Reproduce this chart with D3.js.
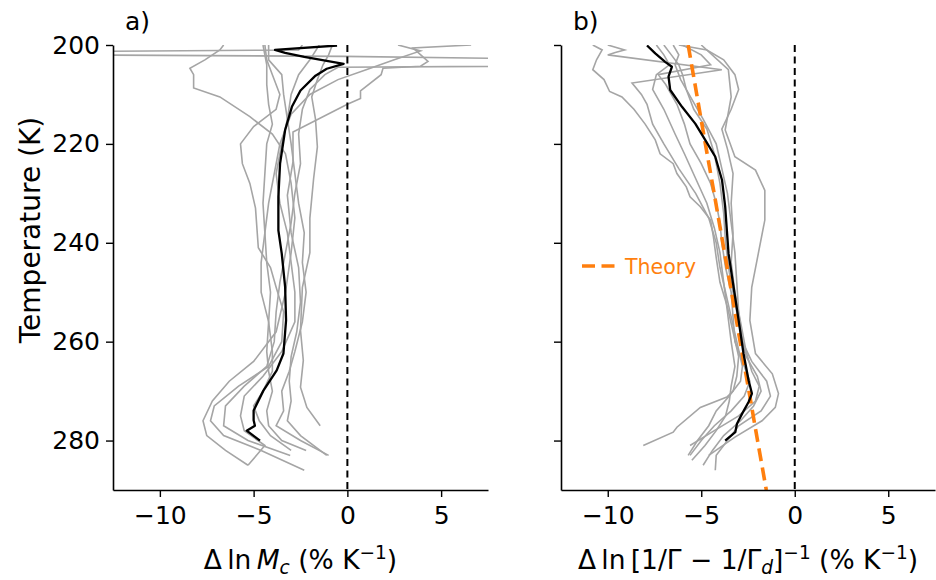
<!DOCTYPE html>
<html><head><meta charset="utf-8">
<script src="https://cdn.jsdelivr.net/npm/d3@7/dist/d3.min.js"></script>
<style>body{margin:0;background:#fff}svg{display:block;font-family:"DejaVu Sans",sans-serif}</style>
</head><body><svg id="chart" width="936" height="580"></svg>
<script>
// ---------- DATA ----------
const yTicks = [200, 220, 240, 260, 280];
const xTicks = [-10, -5, 0, 5];
const xDomain = [-12.5, 7.5];
const yDomain = [200, 290];
const panelLabels = ["a)", "b)"];

// Panel a: multi-model mean, [temperature K, % per K]
const meanA = [[200.1,-0.55],[201.0,-3.86],[201.6,-3.32],[202.4,-2.3],[203.8,-0.2],[204.8,-1.1],[206.2,-1.7],[209.2,-2.5],[212.5,-2.96],[217.2,-3.32],[224,-3.59],[230.7,-3.68],[237.5,-3.68],[242.2,-3.5],[248.9,-3.32],[255.7,-3.27],[262.4,-3.41],[265.8,-3.77],[269.9,-4.48],[273.9,-5.0],[275.9,-5.0],[277,-4.93],[278,-5.37],[280,-4.66]];

// Panel a: individual models
const modelsA = [
  [[200,-6.6],[201,-6.8],[203,-7.6],[204.7,-8.4],[206,-8.2],[208.7,-8.2],[210.5,-6.8],[214.5,-5.2],[218,-4.0],[222,-3.3],[228,-3.0],[235,-2.8],[242,-3.0],[250,-3.3],[258,-3.8],[264,-5.0],[268,-6.3],[272,-7.2],[276,-7.7],[279,-7.5],[282,-6.5],[285,-5.3]],
  [[200,-4.4],[203,-4.3],[206,-4.0],[210,-3.6],[213,-3.8],[216.5,-5.0],[220,-5.7],[224,-5.6],[228,-5.2],[233,-4.9],[241,-4.75],[245,-4.1],[249,-3.8],[254,-3.4],[260,-3.5],[265,-4.2],[269,-5.8],[273,-7.1],[276,-7.3],[279,-6.6],[282,-4.6],[286,-2.3]],
  [[200,-0.8],[202,-1.0],[204,-1.3],[207,-1.6],[210.5,-1.9],[215,-1.7],[220.6,-1.6],[227,-1.8],[235,-2.0],[242,-2.0],[249,-2.4],[257.7,-2.5],[263.8,-2.35],[269.2,-2.5],[273.3,-2.16],[277,-1.45]],
  [[200,6.6],[200.6,3.5],[203.3,4.3],[204.3,3.9],[204.7,1.9],[206,1.8],[209.3,0.7],[210.8,0.7],[212,0],[217.6,-2.9],[223.6,-2.9],[230.4,-3.2],[238,-3.0],[245,-2.6],[252,-2.5],[258,-2.7],[263,-3.0],[268,-3.1],[272,-3.0],[276,-3.2],[279,-2.5],[283,-1.1]],
  [[200,-2.4],[201,-2.6],[201.7,-30],[202.3,-0.2],[203.8,30],[204.5,-0.5],[206,-1.2],[209,-2.0],[213,-2.4],[218,-2.6],[224,-2.5],[230,-2.8],[236,-3.0],[242,-3.3],[248,-3.6],[254,-3.8],[260,-3.9],[265,-4.3],[269,-5.5],[273,-6.5],[277,-6.6],[280,-5.3],[283,-3.05]],
  [[200,2.7],[201.2,3.9],[203,2.5],[205,1.0],[207,-0.5],[210,-2.0],[214,-3.0],[220,-3.6],[226,-3.9],[232,-4.2],[238,-4.4],[244,-4.3],[250,-4.1],[256,-4.2],[262,-4.3],[266,-4.2],[270,-4.0],[274,-4.3],[277,-4.2],[280,-3.5],[282,-2.2]],
  [[200,-4.5],[204,-4.3],[208,-4.3],[212,-4.2],[216,-4.0],[220,-4.3],[226,-4.4],[232,-4.5],[238,-4.4],[244,-4.6],[250,-4.6],[256,-4.2],[262,-4.0],[266,-4.0],[270,-4.5],[273,-5.0],[276,-4.7],[279,-4.1],[282,-3.0]],
  [[200,-1.5],[203,-2.0],[206,-2.6],[210,-3.0],[215,-3.2],[220,-3.0],[226,-2.8],[232,-2.6],[238,-2.3],[244,-2.4],[250,-2.2],[256,-2.4],[262,-2.8],[266,-3.1],[270,-3.5],[274,-3.4],[277,-3.8],[280,-2.5],[283,-1.0]],
  [[200,-4.2],[203,-4.2],[206,-3.5],[210,-3.4],[215,-3.2],[220,-3.5],[226,-3.8],[232,-3.6],[238,-3.2],[244,-3.0],[250,-2.8],[256,-2.8],[262,-3.5],[267,-4.5],[271,-5.5],[275,-5.7],[278,-5.5],[281,-4.4],[285,-5.3]]
];

// Panel b: multi-model mean
const meanB = [[200.1,-7.9],[201.7,-7.46],[203.4,-6.93],[204.4,-6.57],[206.4,-6.75],[209.1,-6.66],[212.5,-6.03],[215.9,-5.32],[219.2,-4.79],[222.6,-4.25],[227.3,-3.89],[232.7,-3.72],[237.5,-3.63],[242.2,-3.54],[249,-3.27],[255.7,-3.0],[262.4,-2.74],[267.8,-2.47],[270.5,-2.29],[272.2,-2.47],[274.6,-2.82],[276.6,-3.09],[278.3,-3.18],[280,-3.72]];

// Panel b: individual models
const modelsB = [
  [[200,-10.8],[201,-10.3],[203,-10.6],[205,-10.8],[207,-10.2],[209.4,-9.9],[210.5,-9.24],[213,-8.6],[216,-8.0],[219.2,-7.46],[222,-7.2],[224,-6.5],[226,-6.3],[228.7,-5.8],[230.7,-5.6],[232.7,-5.05],[235.4,-4.5],[238.8,-4.35],[243,-4.2],[248,-4.0],[253,-3.6],[258,-3.3],[263,-3.0],[267,-3.1],[270,-3.3],[271.2,-3.63],[273.3,-5.05],[277.3,-6.3],[278.3,-6.5],[281,-8.1]],
  [[200,-10.0],[201,-9.1],[201.5,-9.6],[202,-10.0],[205,-3.9],[207.7,-8.7],[210,-8.2],[212,-7.9],[216,-7.6],[220,-7.0],[225,-6.2],[230,-5.3],[235,-4.6],[240,-4.2],[245,-4.0],[250,-3.7],[255,-3.4],[260,-3.1],[265,-2.8],[268,-2.9],[271,-3.5],[274,-4.2],[277,-4.6],[280,-5.2],[283,-5.7]],
  [[200,-5.0],[205,-3.55],[210.5,-3.4],[217.2,-3.72],[222.6,-3.2],[225.3,-2.1],[229.4,-1.6],[235.4,-1.6],[242.2,-1.95],[249,-2.3],[255.7,-2.4],[262.4,-2.1],[266.5,-1.2],[270.5,-0.87],[273.3,-1.04],[276,-1.75],[279.3,-3.2],[283,-4.6]],
  [[200,-7.0],[202,-6.6],[204,-6.2],[206,-6.0],[209,-5.8],[213,-5.4],[217,-4.7],[222,-4.3],[228,-4.0],[234,-3.8],[240,-3.7],[246,-3.5],[252,-3.2],[258,-2.9],[263,-2.6],[267,-2.0],[270,-1.8],[273,-2.2],[276,-2.9],[279,-3.8],[282,-4.4],[285,-4.9]],
  [[200,-6.0],[202,-5.0],[204,-4.5],[206,-7.3],[208,-6.9],[212,-6.3],[216,-5.9],[220,-5.6],[224,-5.0],[228,-4.5],[232,-4.2],[236,-4.0],[240,-3.9],[245,-3.7],[250,-3.4],[255,-3.3],[260,-3.2],[264,-2.8],[268,-2.4],[271,-2.7],[274,-3.4],[277,-4.3],[280,-5.0],[283,-5.6]],
  [[200,-6.5],[202,-6.2],[204,-6.4],[207,-6.1],[211,-5.5],[215,-4.9],[220,-4.2],[225,-3.9],[230,-3.6],[236,-3.4],[242,-3.2],[248,-3.1],[254,-3.0],[260,-2.8],[264,-2.3],[268,-1.5],[271,-1.3],[274,-1.8],[277,-3.0],[280,-3.6],[283,-4.2],[286,-4.25]],
  [[200,-6.2],[201,-4.7],[203,-3.8],[206,-3.2],[209,-3.0],[213,-3.4],[217,-3.9],[221,-3.6],[226,-3.3],[232,-3.4],[238,-3.3],[244,-3.4],[250,-3.2],[256,-2.9],[262,-2.6],[266,-2.3],[269,-1.9],[272,-2.1],[275,-3.0],[278,-4.3],[281,-5.6]],
  [[200,-7.4],[202,-7.0],[204,-6.7],[206,-7.4],[209,-7.6],[213,-7.0],[218,-6.4],[222,-5.9],[227,-5.3],[232,-4.7],[237,-4.3],[242,-4.0],[248,-3.8],[254,-3.6],[260,-3.4],[265,-3.2],[269,-3.4],[272,-3.5],[275,-3.7],[278,-4.2],[281,-4.8],[284,-5.5]]
];

// Theory curve (panel b)
const theoryT = [200, 210, 220, 230, 240, 250, 260, 270, 280, 290];
const theoryX = [-5.70, -5.24, -4.78, -4.31, -3.85, -3.38, -2.92, -2.45, -1.99, -1.52];
const legendLabel = "Theory";

// ---------- LAYOUT ----------
const svg = d3.select("#chart");
const yTop = 45, yBottom = 490;
const panels = [
  {left: 113, right: 488, label: panelLabels[0], means: meanA, models: modelsA, showY: true},
  {left: 561, right: 935, label: panelLabels[1], means: meanB, models: modelsB, showY: false}
];
const fs = 25;
const fsLab = 26.5;

panels.forEach((p, i) => {
  const x = d3.scaleLinear().domain(xDomain).range([p.left, p.right]);
  const y = d3.scaleLinear().domain(yDomain).range([yTop, yBottom]);
  const clipId = "clip" + i;
  svg.append("clipPath").attr("id", clipId).append("rect")
    .attr("x", p.left).attr("y", yTop).attr("width", p.right - p.left).attr("height", yBottom - yTop);
  const g = svg.append("g").attr("clip-path", `url(#${clipId})`);
  const line = d3.line().x(d => x(d[1])).y(d => y(d[0]));

  g.selectAll("path.model").data(p.models).join("path")
    .attr("class", "model").attr("d", line)
    .attr("fill", "none").attr("stroke", "#a5a5a5").attr("stroke-width", 1.6);

  g.append("line").attr("x1", x(0)).attr("x2", x(0)).attr("y1", yTop).attr("y2", yBottom)
    .attr("stroke", "#000").attr("stroke-width", 2).attr("stroke-dasharray", "7,4.5");

  if (i === 1) {
    g.append("path").datum(theoryT.map((t, k) => [t, theoryX[k]])).attr("d", line)
      .attr("fill", "none").attr("stroke", "#ff7f0e").attr("stroke-width", 3.6)
      .attr("stroke-dasharray", "13,6.5");
  }

  g.append("path").datum(p.means).attr("d", line)
    .attr("fill", "none").attr("stroke", "#000").attr("stroke-width", 2.3)
    .attr("stroke-linejoin", "round");

  const ax = svg.append("g").attr("transform", `translate(0,${yBottom})`)
    .call(d3.axisBottom(x).tickValues(xTicks).tickSize(7).tickSizeOuter(0).tickPadding(9)
      .tickFormat(d3.format("")));
  const ay = svg.append("g").attr("transform", `translate(${p.left},0)`)
    .call(d3.axisLeft(y).tickValues(yTicks).tickSize(7).tickSizeOuter(0).tickPadding(6)
      .tickFormat(p.showY ? d3.format("") : () => ""));
  [ax, ay].forEach(a => {
    a.selectAll("path.domain").attr("stroke", "#000").attr("stroke-width", 1.6);
    a.selectAll(".tick line").attr("stroke", "#000").attr("stroke-width", 1.4);
    a.selectAll("text").attr("font-family", "DejaVu Sans").attr("font-size", fs).attr("fill", "#000");
  });

  svg.append("text").attr("x", p.left + 12).attr("y", 30).attr("font-size", fs).text(p.label);
});

svg.append("text").attr("transform", "translate(40,230) rotate(-90)").attr("text-anchor", "middle")
  .attr("font-size", 28).text("Temperature (K)");

const tA = svg.append("text").attr("x", 300.5).attr("y", 569).attr("text-anchor", "middle").attr("font-size", fsLab);
tA.append("tspan").text("Δ\u2009ln\u2009");
tA.append("tspan").attr("font-style", "italic").text("M");
tA.append("tspan").attr("font-style", "italic").attr("font-size", fsLab * 0.7).attr("dy", 5).text("c");
tA.append("tspan").attr("dy", -5).text(" (% K");
tA.append("tspan").attr("font-size", fsLab * 0.7).attr("dy", -10).text("−1");
tA.append("tspan").attr("dy", 10).text(")");

const tB = svg.append("text").attr("x", 748).attr("y", 569).attr("text-anchor", "middle").attr("font-size", fsLab);
tB.append("tspan").text("Δ\u2009ln\u2009[1/Γ − 1/Γ");
tB.append("tspan").attr("font-style", "italic").attr("font-size", fsLab * 0.7).attr("dy", 5).text("d");
tB.append("tspan").attr("dy", -5).text("]");
tB.append("tspan").attr("font-size", fsLab * 0.7).attr("dy", -10).text("−1");
tB.append("tspan").attr("dy", 10).text(" (% K");
tB.append("tspan").attr("font-size", fsLab * 0.7).attr("dy", -10).text("−1");
tB.append("tspan").attr("dy", 10).text(")");

const lg = svg.append("g");
lg.append("line").attr("x1", 582).attr("x2", 617).attr("y1", 266).attr("y2", 266)
  .attr("stroke", "#ff7f0e").attr("stroke-width", 3.6).attr("stroke-dasharray", "13,6.5");
lg.append("text").attr("x", 625).attr("y", 274).attr("font-size", 20.5).attr("fill", "#ff7f0e").text(legendLabel);
</script></body></html>
